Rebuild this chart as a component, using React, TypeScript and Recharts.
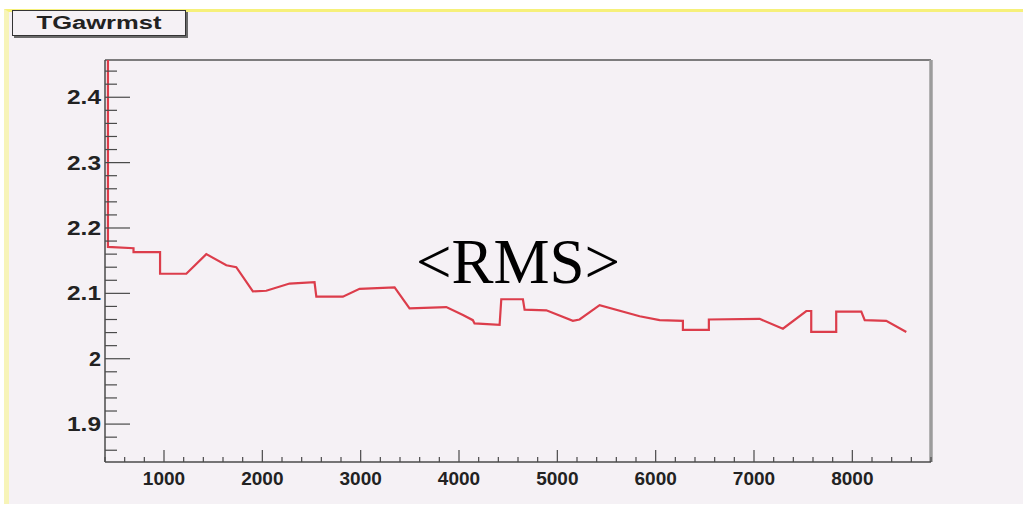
import { LineChart, Line, XAxis, YAxis, ReferenceLine } from 'recharts'

// run number vs <RMS>
const runX = [
  430, 430, 690, 690, 960, 960, 1227, 1430, 1634, 1735, 1904, 2040, 2277, 2531, 2549, 2819,
  2989, 3345, 3497, 3871, 4040, 4141, 4158, 4413, 4430, 4650, 4667, 4888, 5158, 5226, 5430,
  5837, 6040, 6277, 6277, 6541, 6541, 7057, 7294, 7532, 7582, 7582, 7836, 7836, 8091, 8126,
  8345, 8549,
]
const rmsY = [
  2.457, 2.171, 2.169, 2.163, 2.163, 2.13, 2.13, 2.16, 2.143, 2.14, 2.103, 2.104, 2.115, 2.117,
  2.095, 2.095, 2.107, 2.109, 2.077, 2.079, 2.067, 2.059, 2.054, 2.052, 2.091, 2.091, 2.075,
  2.074, 2.058, 2.06, 2.082, 2.065, 2.059, 2.058, 2.044, 2.044, 2.06, 2.061, 2.046, 2.073,
  2.073, 2.041, 2.041, 2.072, 2.072, 2.059, 2.058, 2.041,
]

const X_DOMAIN: [number, number] = [400, 8800]
const Y_DOMAIN: [number, number] = [1.842, 2.457]

// every 200 on x (labels each 1000), every 0.02 on y (labels each 0.1)
const xTicks: number[] = []
for (let v = 400; v <= 8800; v += 200) xTicks.push(v)
const yTicks: number[] = []
for (let i = 93; i <= 122; i++) yTicks.push(i * 2 / 100)

const data = runX.map((x, i) => ({ run: x, rms: rmsY[i] }))

const AXIS = '#4a4a4a'
const BG = '#f5f1f5'
const FONT = '"Liberation Sans", Arial, sans-serif'

const YTick = (props: any) => {
  const { x, y, payload } = props
  const hundredths = Math.round(payload.value * 100)
  const major = hundredths % 10 === 0
  const label = String(hundredths / 100)
  const w = label.replace('.', '').length * 12 + (label.includes('.') ? 10 : 0)
  return (
    <g>
      <line x1={x} x2={x + (major ? 25 : 12)} y1={y} y2={y} stroke={AXIS} strokeWidth={1.2} />
      {major && (
        <text x={x - 4} y={y + 7} textAnchor="end" fontFamily={FONT} fontWeight="bold" fontSize={20}
          fill="#222" textLength={w} lengthAdjust="spacingAndGlyphs">
          {label}
        </text>
      )}
    </g>
  )
}

const XTick = (props: any) => {
  const { x, y, payload } = props
  const major = payload.value % 1000 === 0
  return (
    <g>
      <line x1={x} x2={x} y1={y} y2={y - (major ? 12 : 5)} stroke={AXIS} strokeWidth={1.2} />
      {major && (
        <text x={x} y={y + 23} textAnchor="middle" fontFamily={FONT} fontWeight="bold" fontSize={19}
          fill="#222">
          {payload.value}
        </text>
      )}
    </g>
  )
}

export default function App() {
  return (
    <div style={{ position: 'absolute', left: 0, top: 0, width: 1023, height: 508, background: '#fff', overflow: 'hidden' }}>
      {/* pale yellow slide frame */}
      <div style={{
        position: 'absolute', left: 4, top: 9, right: 0, bottom: 4, background: BG,
        borderTop: '3px solid #f6f07a', borderLeft: '5px solid #f7f4b8',
      }} />
      <div style={{ position: 'absolute', left: 0, top: 0 }}>
        <LineChart width={1023} height={508} data={data} margin={{ top: 60, right: 92, bottom: 0, left: 0 }}>
          <XAxis dataKey="run" type="number" domain={X_DOMAIN} ticks={xTicks} interval={0} height={46}
            tickSize={0} tickMargin={0} tick={<XTick />} axisLine={{ stroke: AXIS, strokeWidth: 1.5 }}
            allowDataOverflow />
          <YAxis type="number" domain={Y_DOMAIN} ticks={yTicks} interval={0} width={105}
            tickSize={0} tickMargin={0} tick={<YTick />} axisLine={{ stroke: AXIS, strokeWidth: 1.5 }}
            allowDataOverflow />
          {/* frame top and right */}
          <ReferenceLine y={Y_DOMAIN[1]} stroke="#555" strokeWidth={1.3} />
          <ReferenceLine x={X_DOMAIN[1]} stroke="#9c9c9c" strokeWidth={3.5} />
          <Line type="linear" dataKey="rms" stroke="#dc3d4b" strokeWidth={2.2} dot={false}
            isAnimationActive={false} />
        </LineChart>
      </div>
      {/* histogram title box */}
      <div style={{
        position: 'absolute', left: 12, top: 10, width: 172, height: 24, background: BG,
        border: '1px solid #333', boxShadow: '2px 2px 0 #6a6a6a', display: 'flex',
        alignItems: 'center', justifyContent: 'center', overflow: 'hidden',
      }}>
        <span style={{ fontFamily: FONT, fontWeight: 'bold', fontSize: 18, color: '#222', display: 'inline-block', transform: 'scaleX(1.42)' }}>
          TGawrmst
        </span>
      </div>
      <svg width={1023} height={508} style={{ position: 'absolute', left: 0, top: 0, pointerEvents: 'none' }}>
        <text x={416} y={283} fontFamily='"Liberation Serif", "Times New Roman", serif' fontSize={63} fill="#000">
          {'<RMS>'}
        </text>
      </svg>
    </div>
  )
}
